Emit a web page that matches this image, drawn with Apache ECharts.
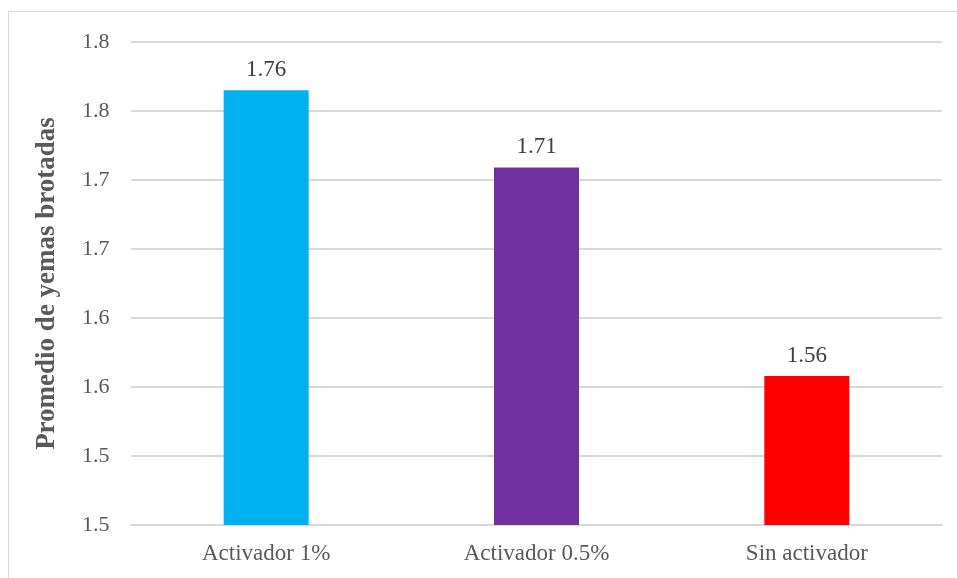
<!DOCTYPE html>
<html>
<head>
<meta charset="utf-8">
<script src="https://cdn.jsdelivr.net/npm/echarts@6/dist/echarts.min.js"></script>
<style>
  html, body { margin: 0; padding: 0; background: #ffffff; }
  #chart { width: 957px; height: 578px; }
</style>
</head>
<body>
<div id="chart"></div>
<script>
// Tratamientos y promedio de yemas brotadas
const categories = ['Activador 1%', 'Activador 0.5%', 'Sin activador'];
const values = [1.765, 1.709, 1.558];
const valueLabels = ['1.76', '1.71', '1.56'];
const barColors = ['#00B0F0', '#7030A0', '#FF0000'];

// Eje Y
const yMin = 1.45;
const yMax = 1.80;
const yStep = 0.05;
const yTitle = 'Promedio de yemas brotadas';

const font = '"Liberation Serif", "Times New Roman", serif';

const chart = echarts.init(document.getElementById('chart'), null, { renderer: 'canvas' });

chart.setOption({
  backgroundColor: '#ffffff',
  animation: false,
  graphic: [{
    type: 'polyline',
    shape: { points: [[8.5, 600], [8.5, 11.5], [960, 11.5]] },
    style: { stroke: '#d9d9d9', lineWidth: 1, fill: null },
    silent: true
  }],
  grid: { left: 131, right: 15, top: 42, bottom: 53 },
  xAxis: {
    type: 'category',
    data: categories,
    axisLine: { show: true, lineStyle: { color: '#d9d9d9', width: 2 } },
    axisTick: { show: false },
    axisLabel: { color: '#595959', fontFamily: font, fontSize: 23, margin: 17 }
  },
  yAxis: {
    type: 'value',
    min: yMin,
    max: yMax,
    interval: yStep,
    name: yTitle,
    nameLocation: 'middle',
    nameGap: 70,
    nameRotate: 90,
    nameTextStyle: { color: '#595959', fontFamily: font, fontSize: 27, fontWeight: 'bold' },
    axisLine: { show: false },
    axisTick: { show: false },
    splitLine: { lineStyle: { color: '#d9d9d9', width: 2 } },
    axisLabel: {
      color: '#595959', fontFamily: font, fontSize: 22, margin: 49, align: 'left',
      formatter: v => (Math.round(v * 10 + 1e-6) / 10).toFixed(1)
    }
  },
  series: [{
    type: 'bar',
    barWidth: 85,
    data: values.map((v, i) => ({ value: v, itemStyle: { color: barColors[i] } })),
    label: {
      show: true,
      position: 'top',
      distance: 9,
      color: '#404040',
      fontFamily: font,
      fontSize: 23,
      formatter: p => valueLabels[p.dataIndex]
    }
  }]
});
</script>
</body>
</html>
